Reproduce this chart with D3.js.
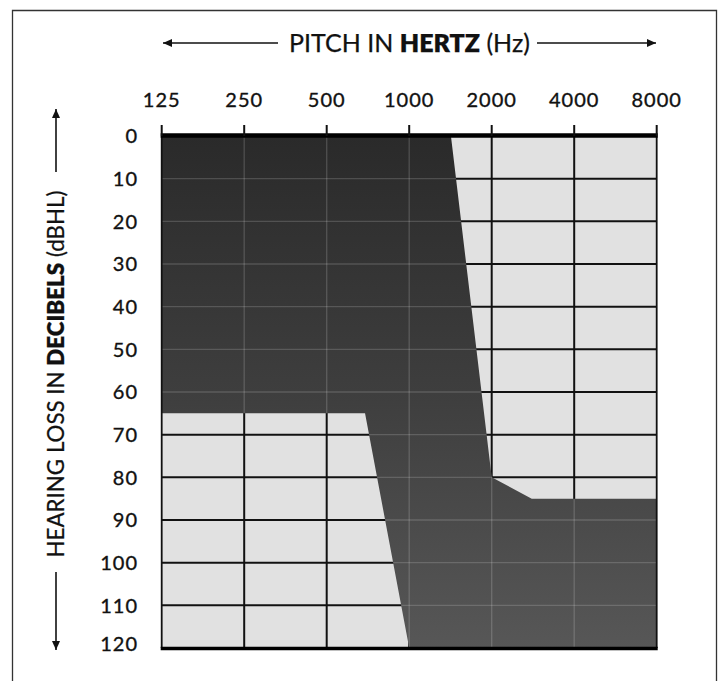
<!DOCTYPE html>
<html><head><meta charset="utf-8">
<script src="https://cdn.jsdelivr.net/npm/d3@7"></script>
<style>
html,body{margin:0;padding:0;background:#fff;}
svg{display:block;font-family:Lato,"Open Sans",sans-serif;}
</style></head>
<body>
<svg id="chart" width="719" height="681"></svg>
<script>
// ---- data ----
const freqTicks = [125, 250, 500, 1000, 2000, 4000, 8000];
const freqLabels = ["125", "250", "500", "1000", "2000", "4000", "8000"];
const dbTicks = [0, 10, 20, 30, 40, 50, 60, 70, 80, 90, 100, 110, 120];
const dbLabels = ["0","10","20","30","40","50","60","70","80","90","100","110","120"];
// outline of the dark (audible-loss) region, clockwise
const lossFreq = [125, 1420, 2000, 2800, 8000, 8000, 1000, 690, 125];
const lossDb   = [0,   0,    80,   85,   85,   120,  120,  65,  65];
const xTitle = ["PITCH IN ", "HERTZ", " (Hz)"];
const yTitle = ["HEARING LOSS IN ", "DECIBELS", " (dBHL)"];

const svg = d3.select("#chart");
const x = d3.scaleLog().base(2).domain([125, 8000]).range([161.7, 656.7]);
const y = d3.scaleLinear().domain([0, 120]).range([136, 648]);

// outer frame
svg.append("path").attr("d", "M12.5,681V10.5H716.5V681")
  .attr("fill", "none").attr("stroke", "#333").attr("stroke-width", 1.3);

const defs = svg.append("defs");
const grad = defs.append("linearGradient").attr("id", "dk")
  .attr("gradientUnits", "userSpaceOnUse")
  .attr("x1", 0).attr("x2", 0).attr("y1", y(0)).attr("y2", y(120));
grad.append("stop").attr("offset", 0).attr("stop-color", "#2a2a2a");
grad.append("stop").attr("offset", 0.5).attr("stop-color", "#3e3e3e");
grad.append("stop").attr("offset", 1).attr("stop-color", "#575757");

const pts = lossFreq.map((f, i) => [x(f), y(lossDb[i])]);
const line = d3.line();
defs.append("clipPath").attr("id", "dkclip").append("path").attr("d", line(pts) + "Z");

const g = svg.append("g");
// light background
g.append("rect").attr("x", x(125)).attr("y", y(0))
  .attr("width", x(8000) - x(125)).attr("height", y(120) - y(0)).attr("fill", "#e1e1e1");

function grid(sel, color, w) {
  sel.selectAll(null).data(dbTicks.slice(1, -1)).join("line")
    .attr("x1", x(125)).attr("x2", x(8000)).attr("y1", d => y(d)).attr("y2", d => y(d))
    .attr("stroke", color).attr("stroke-width", w);
  sel.selectAll(null).data(freqTicks.slice(1, -1)).join("line")
    .attr("x1", d => x(d)).attr("x2", d => x(d)).attr("y1", y(0)).attr("y2", y(120))
    .attr("stroke", color).attr("stroke-width", w);
}
grid(g.append("g"), "#111", 2);

// dark region
g.append("path").attr("d", line(pts) + "Z").attr("fill", "url(#dk)");
grid(g.append("g").attr("clip-path", "url(#dkclip)"), "rgba(255,255,255,0.16)", 1.4);

// borders
g.append("line").attr("x1", x(125)).attr("x2", x(125)).attr("y1", y(0)).attr("y2", y(120))
  .attr("stroke", "#111").attr("stroke-width", 1.8);
g.append("line").attr("x1", x(8000)).attr("x2", x(8000)).attr("y1", y(0)).attr("y2", y(120))
  .attr("stroke", "#111").attr("stroke-width", 1.8);
g.append("line").attr("x1", x(125) - 1).attr("x2", x(8000) + 1).attr("y1", y(0) - 0.5).attr("y2", y(0) - 0.5)
  .attr("stroke", "#000").attr("stroke-width", 4.5);
g.append("line").attr("x1", x(125) - 1).attr("x2", x(8000) + 1).attr("y1", y(120) + 0.5).attr("y2", y(120) + 0.5)
  .attr("stroke", "#000").attr("stroke-width", 3.5);

// top tick marks
g.selectAll(null).data(freqTicks).join("line")
  .attr("x1", d => x(d)).attr("x2", d => x(d)).attr("y1", y(0) - 11).attr("y2", y(0))
  .attr("stroke", "#111").attr("stroke-width", 2);

// tick labels
svg.append("g").selectAll("text").data(freqTicks).join("text")
  .attr("x", d => x(d)).attr("y", 100).attr("dy", "0.36em")
  .attr("text-anchor", "middle").attr("font-size", 20).attr("letter-spacing", 1)
  .attr("fill", "#111").attr("stroke", "#111").attr("stroke-width", 0.35)
  .text((d, i) => freqLabels[i]);
svg.append("g").selectAll("text").data(dbTicks).join("text")
  .attr("x", 138).attr("y", d => d === 120 ? y(d) - 4 : y(d)).attr("dy", "0.36em")
  .attr("text-anchor", "end").attr("font-size", 20).attr("letter-spacing", 1)
  .attr("fill", "#111").attr("stroke", "#111").attr("stroke-width", 0.35)
  .text((d, i) => dbLabels[i]);

// titles
function title(parts, tx, ty, rot, target) {
  const t = svg.append("text").attr("text-anchor", "middle").attr("font-size", 20)
    .attr("fill", "#111").attr("stroke", "#111").attr("stroke-width", 0.25).attr("dy", "0.36em")
    .attr("transform", `translate(${tx},${ty}) rotate(${rot})`);
  parts.forEach((p, i) => t.append("tspan").attr("font-weight", i === 1 ? 800 : 400).text(p));
  const w = t.node().getComputedTextLength();
  t.attr("font-size", 20 * target / w);
}
title(xTitle, 409.5, 43, 0, 241);
title(yTitle, 56, 374, -90, 367);

// arrows
function arrow(x1, y1, x2, y2) {
  svg.append("line").attr("x1", x1).attr("y1", y1).attr("x2", x2).attr("y2", y2)
    .attr("stroke", "#111").attr("stroke-width", 1.6);
  const a = Math.atan2(y2 - y1, x2 - x1), L = 9, W = 4;
  const bx = x2 - L * Math.cos(a), by = y2 - L * Math.sin(a);
  const px = -Math.sin(a) * W, py = Math.cos(a) * W;
  svg.append("path").attr("d", `M${x2},${y2}L${bx + px},${by + py}L${bx - px},${by - py}Z`).attr("fill", "#111");
}
arrow(278, 43, 163, 43);
arrow(537, 43, 656, 43);
arrow(56, 172, 56, 109);
arrow(56, 572, 56, 650);
</script>
</body></html>
